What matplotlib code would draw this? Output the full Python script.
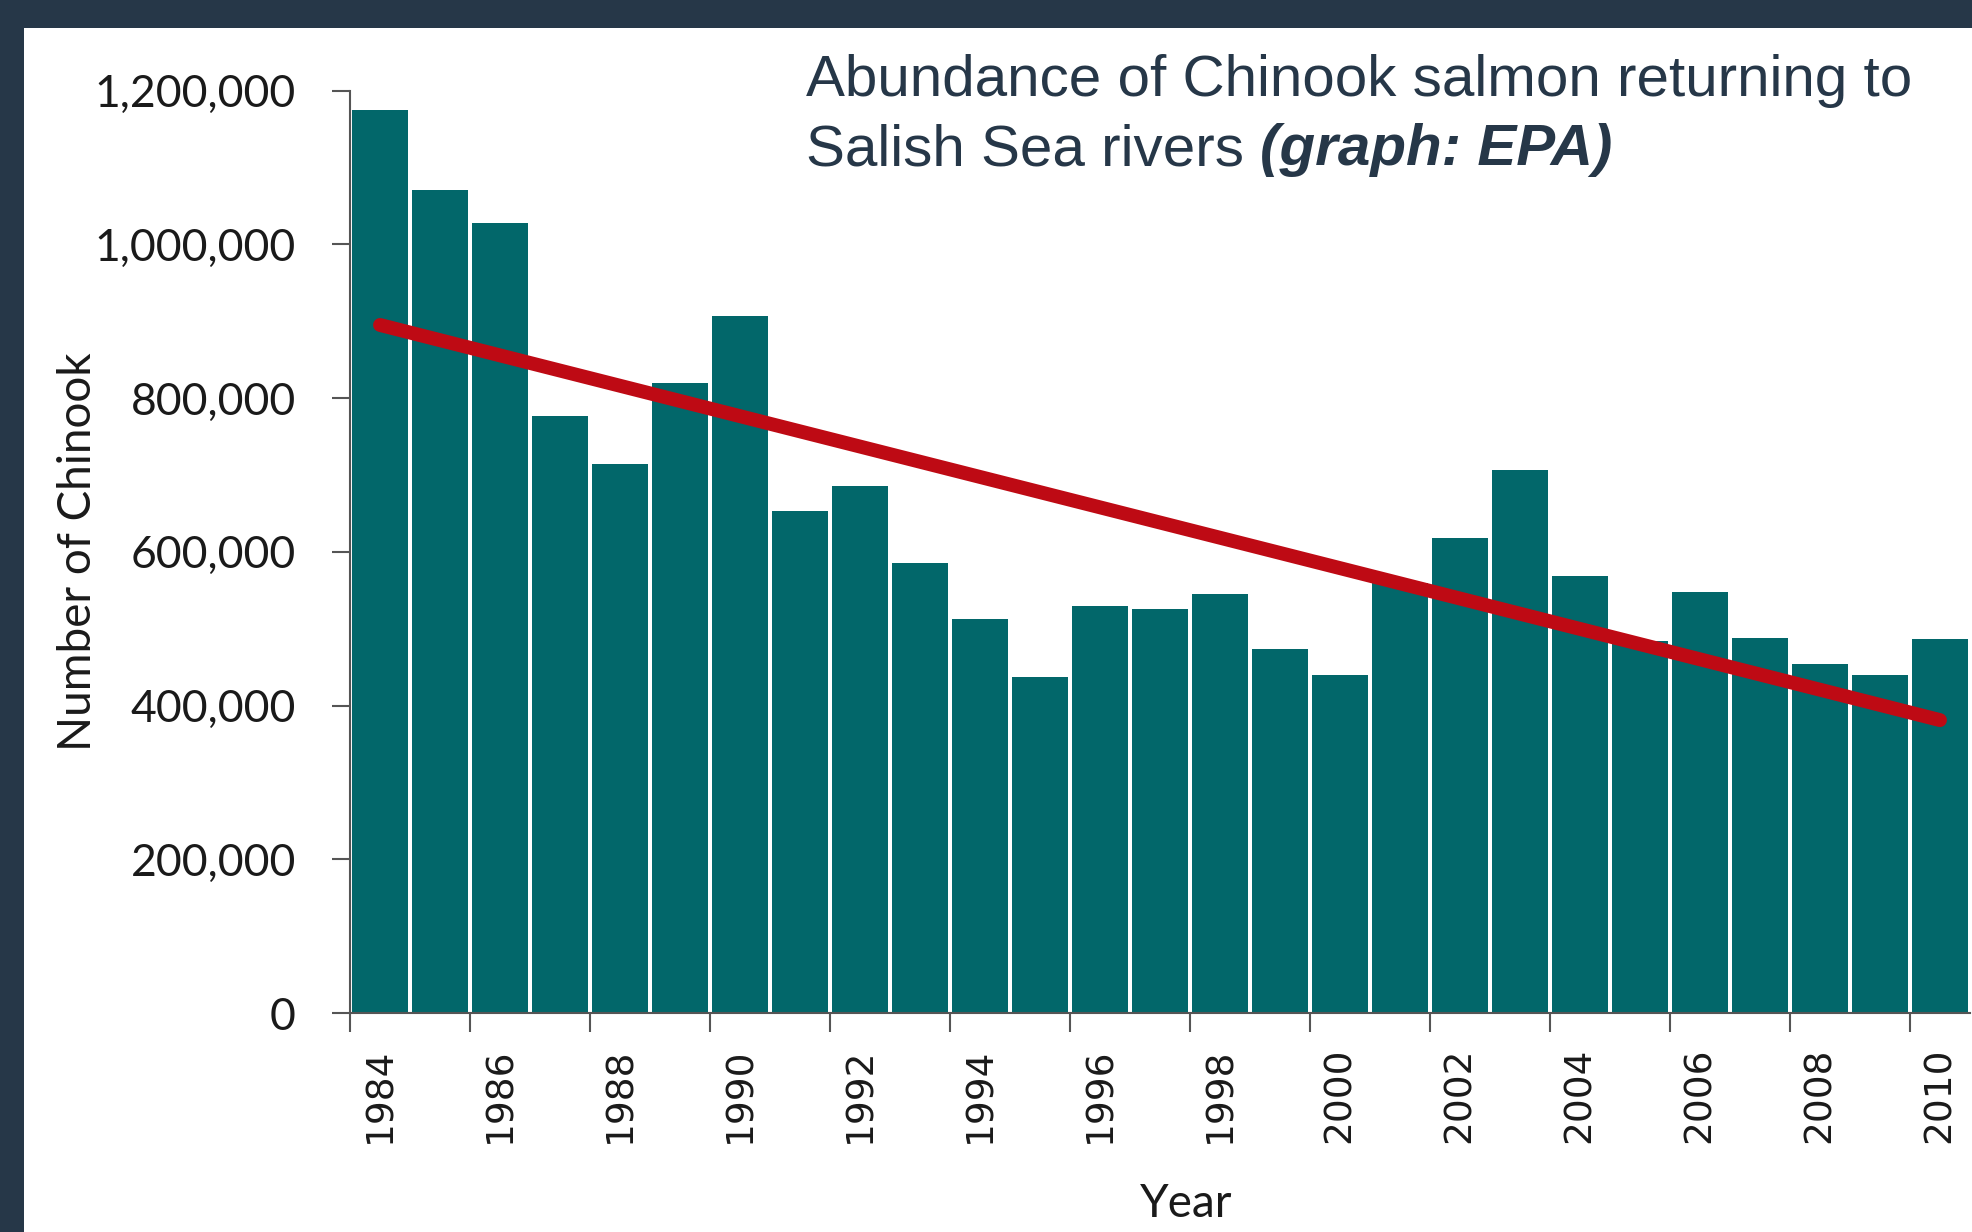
import matplotlib
matplotlib.use("Agg")
import matplotlib.pyplot as plt
from matplotlib.patches import Rectangle
from matplotlib.ticker import FuncFormatter, FixedLocator

# data
years = list(range(1984, 2011))
chinook = [1175000, 1070000, 1028000, 777000, 714000, 820000, 907000,
           653000, 686000, 586000, 512000, 437000, 529000, 525000,
           545000, 473000, 440000, 560000, 618000, 706000, 568000,
           484000, 548000, 488000, 454000, 440000, 486000]
trend_years = [1984, 2010]
trend_values = [895000, 381000]
label_years = list(range(1984, 2011, 2))
y_ticks = [0, 200000, 400000, 600000, 800000, 1000000, 1200000]

W, H = 1972, 1232
dark = "#263748"
teal = "#02676A"
red = "#BE0A14"

fig = plt.figure(figsize=(W / 100, H / 100), dpi=100, facecolor=dark)

# white slide panel (behind the axes)
fig.patches.append(Rectangle((24 / W, 0), 1, 1 - 28 / H, transform=fig.transFigure,
                             facecolor="white", edgecolor="none", zorder=-10))

ax = fig.add_axes([350 / W, 1 - 1013 / H, 1620 / W, (1013 - 90.5) / H])
ax.set_facecolor("none")

ax.bar(years, chinook, width=0.92, color=teal, zorder=2)
ax.plot(trend_years, trend_values, color=red, lw=10, solid_capstyle="round", zorder=3)

ax.set_xlim(1983.5, 2010.5)
ax.set_ylim(0, 1200000)

for s in ["top", "right"]:
    ax.spines[s].set_visible(False)
for s in ["left", "bottom"]:
    ax.spines[s].set_color("#555555")
    ax.spines[s].set_linewidth(1.5)

# y axis
ax.yaxis.set_major_locator(FixedLocator(y_ticks))
ax.yaxis.set_major_formatter(FuncFormatter(lambda v, p: f"{int(v):,}"))
ax.tick_params(axis="y", length=13, width=1.5, color="#555555", pad=26,
               labelsize=32, labelcolor="#1a1a1a")
for t in ax.get_yticklabels():
    t.set_fontfamily("Lato")

# x axis: labels centred on bars, tick marks between categories
ax.xaxis.set_major_locator(FixedLocator(label_years))
ax.set_xticklabels([str(y) for y in label_years], rotation=90,
                   fontfamily="DejaVu Sans", fontsize=27, color="#1a1a1a")
ax.xaxis.set_minor_locator(FixedLocator([y - 0.5 for y in label_years]))
ax.tick_params(axis="x", which="major", length=0, pad=25)
ax.tick_params(axis="x", which="minor", length=13.5, width=1.5, color="#555555")

ax.set_ylabel("Number of Chinook", fontfamily="Lato", fontsize=33, color="#1a1a1a")
ax.yaxis.set_label_coords((78 - 350) / 1620, 0.5)
ax.set_xlabel("Year", fontfamily="Lato", fontsize=33, color="#1a1a1a")
ax.xaxis.set_label_coords((1186 - 350) / 1620, -(1204 - 1013) / (1013 - 90.5))
ax.xaxis.label.set_va("center")
ax.yaxis.label.set_va("center")

# title in the top right corner
fig.text(806 / W, 1 - 96 / H, "Abundance of Chinook salmon returning to",
         fontfamily="Liberation Sans", fontsize=42, color=dark, va="baseline")
t2 = fig.text(806 / W, 1 - 165 / H, "Salish Sea rivers ",
              fontfamily="Liberation Sans", fontsize=42, color=dark, va="baseline")
renderer = fig.canvas.get_renderer()
bb = t2.get_window_extent(renderer)
fig.text(bb.x1 / W, 1 - 165 / H, "(graph: EPA)", fontfamily="Liberation Sans",
         fontsize=42, fontweight="bold", fontstyle="italic", color=dark, va="baseline")

fig.savefig("out.png", dpi=100, facecolor=dark)
